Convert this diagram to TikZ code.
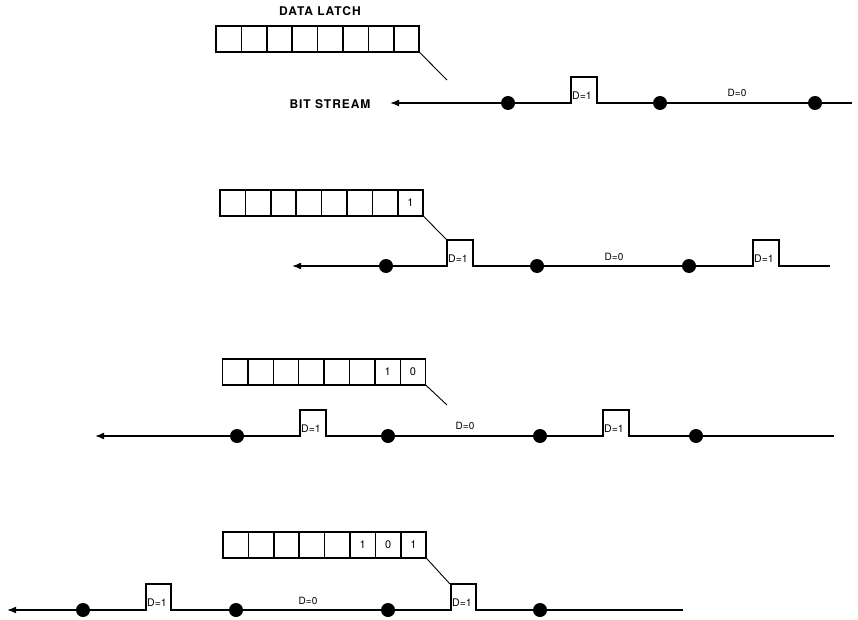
\documentclass[tikz,border=0pt]{standalone}
\usepackage{fontspec}
\setsansfont{TeX Gyre Heros}
\usetikzlibrary{arrows.meta}

\tikzset{
  cell/.style={draw, line width=1.5pt, minimum width=25.4pt, minimum height=26pt,
    inner sep=0pt, outer sep=0pt, font=\sffamily\fontsize{11}{11}\selectfont},
  bitdot/.style={circle, fill=black, inner sep=0pt, minimum size=14pt},
  wave/.style={line width=1.6pt, line join=miter, -{Latex[length=9pt,width=7pt]}},
  lead/.style={line width=0.9pt},
  dlabel/.style={font=\sffamily\fontsize{10}{10}\selectfont, inner sep=0pt},
  banner/.style={font=\sffamily\bfseries\fontsize{12}{12}\selectfont\addfontfeature{LetterSpace=8}}
}

\begin{document}
\begin{tikzpicture}[x=1pt, y=-1pt]
            \useasboundingbox (0,0) rectangle (858,620);
            % latch registers
            \node[banner] (latch) at (320,11) {DATA LATCH};
            \foreach \i in {1,...,8} \node[cell] (a\i) at ({203.3+25.4*\i},39) {};
            \foreach \i in {1,...,7} \node[cell] (b\i) at ({207.3+25.4*\i},203) {};
            \node[cell] (b8) at (410.5,203) {1};
            \foreach \i in {1,...,6} \node[cell] (c\i) at ({209.8+25.4*\i},372) {};
            \node[cell] (c7) at (387.6,372) {1};
            \node[cell] (c8) at (413,372) {0};
            \foreach \i in {1,...,5} \node[cell] (d\i) at ({210.3+25.4*\i},545) {};
            \node[cell] (d6) at (362.7,545) {1};
            \node[cell] (d7) at (388.1,545) {0};
            \node[cell] (d8) at (413.5,545) {1};
            % stream ends and pulse corners
            \coordinate (sa) at (852,103);  \coordinate (ta) at (390,103);
            \coordinate (qa1) at (597,103);
            \coordinate (sb) at (830,266);  \coordinate (tb) at (292,266);
            \coordinate (qb1) at (473,266); \coordinate (qb2) at (779,266);
            \coordinate (sc) at (834,436);  \coordinate (tc) at (95,436);
            \coordinate (qc1) at (326,436); \coordinate (qc2) at (629,436);
            \coordinate (sd) at (683,610);  \coordinate (td) at (7,610);
            \coordinate (qd1) at (171,610); \coordinate (qd2) at (476,610);
            \coordinate (ea) at (447,80);   \coordinate (eb) at (447,240);
            \coordinate (ec) at (447,405);  \coordinate (ed) at (450,584);
            % bit streams
            \draw[wave] (sa) -- (qa1) |- ++(-26,-26) |- (ta);
            \draw[wave] (sb) -- (qb2) |- ++(-26,-26) |- (qb1) |- ++(-26,-26) |- (tb);
            \draw[wave] (sc) -- (qc2) |- ++(-26,-26) |- (qc1) |- ++(-26,-26) |- (tc);
            \draw[wave] (sd) -- (qd2) |- ++(-25,-26) |- (qd1) |- ++(-25,-26) |- (td);
            \draw[lead] (a8.south east) -- (ea);
            \draw[lead] (b8.south east) -- (eb);
            \draw[lead] (c8.south east) -- (ec);
            \draw[lead] (d8.south east) -- (ed);
            \node[banner, anchor=east] (stream) at (374,104) {BIT STREAM};
            % clock points
            \begin{scope}[every node/.style={bitdot}]
            \node (pa1) at (508,103) {};
            \node (pa2) at (660,103) {};
            \node (pa3) at (815,103) {};
            \node (pb1) at (386,266) {};
            \node (pb2) at (537,266) {};
            \node (pb3) at (689,266) {};
            \node (pc1) at (237,436) {};
            \node (pc2) at (388,436) {};
            \node (pc3) at (540,436) {};
            \node (pc4) at (696,436) {};
            \node (pd1) at (83,610) {};
            \node (pd2) at (236,610) {};
            \node (pd3) at (388,610) {};
            \node (pd4) at (540,610) {};
            \end{scope}
            % data labels
            \begin{scope}[every node/.style={dlabel}]
            \node[anchor=west, font=\sffamily\fontsize{10.5}{10.5}\selectfont] (ka1) at (572,96) {D=1};
            \node (ka2) at (737,93) {D=0};
            \node[anchor=west, font=\sffamily\fontsize{10.5}{10.5}\selectfont] (kb1) at (448,259) {D=1};
            \node (kb2) at (614,257) {D=0};
            \node[anchor=west, font=\sffamily\fontsize{10.5}{10.5}\selectfont] (kb3) at (754,259) {D=1};
            \node[anchor=west, font=\sffamily\fontsize{10.5}{10.5}\selectfont] (kc1) at (301,429) {D=1};
            \node (kc2) at (465,426) {D=0};
            \node[anchor=west, font=\sffamily\fontsize{10.5}{10.5}\selectfont] (kc3) at (604,429) {D=1};
            \node[anchor=west, font=\sffamily\fontsize{10.5}{10.5}\selectfont] (kd1) at (147,603) {D=1};
            \node (kd2) at (308,601) {D=0};
            \node[anchor=west, font=\sffamily\fontsize{10.5}{10.5}\selectfont] (kd3) at (452,603) {D=1};
            \end{scope}
            \end{tikzpicture}
\end{document}
